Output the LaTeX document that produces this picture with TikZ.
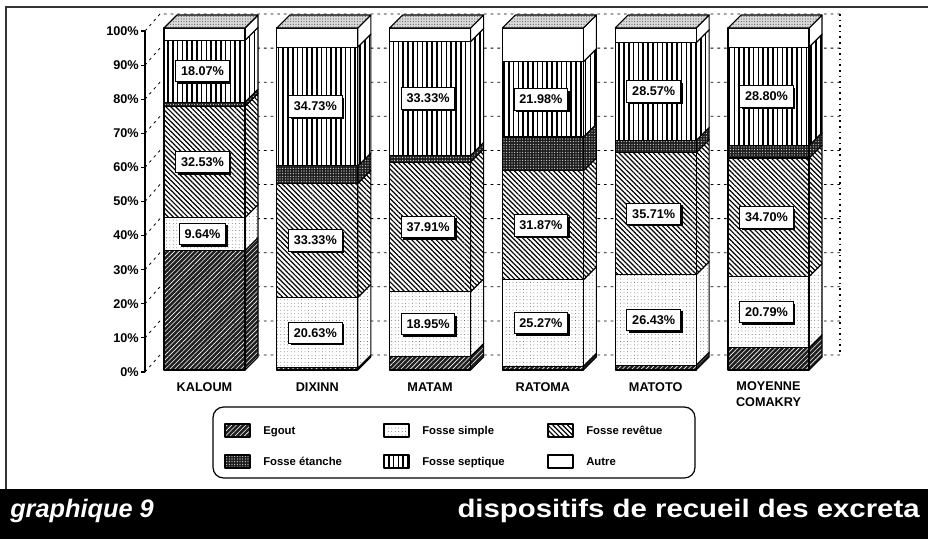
\documentclass[tikz,border=0pt]{standalone}
\usepackage{fontspec}
\usepackage{graphicx}
\setmainfont{Liberation Sans}
\usetikzlibrary{patterns.meta,shadows}

\begin{document}
\begin{tikzpicture}[x=0.75pt, y=-0.75pt,
  face/.style={draw=black, line width=0.8pt, line join=round},
  seg1/.style={face, preaction={fill=black!88},
    pattern={Lines[angle=45,distance=2.5pt,line width=0.45pt]}, pattern color=white},
  seg2/.style={face, preaction={fill=white},
    pattern={Dots[distance=2.6pt,radius=0.3pt]}, pattern color=black!75},
  seg3/.style={face, preaction={fill=white},
    pattern={Lines[angle=-45,distance=2.6pt,line width=0.9pt]}, pattern color=black},
  seg4/.style={face, preaction={fill=black!88},
    pattern={Dots[distance=2pt,radius=0.4pt]}, pattern color=white},
  seg5/.style={face, preaction={fill=white},
    pattern={Lines[angle=90,distance=3.6pt,line width=1.3pt]}, pattern color=black},
  seg6/.style={face, fill=white},
  topface/.style={face, preaction={fill=black!15},
    pattern={Dots[distance=2pt,radius=0.4pt]}, pattern color=black!70},
  valbox/.style={draw=black, fill=white, line width=0.7pt, inner xsep=4pt,
    inner ysep=2pt, minimum height=16pt, font=\bfseries\fontsize{9.5}{11}\selectfont,
    general shadow={fill=black, shadow xshift=1.6pt, shadow yshift=-1.6pt}},
  axlabel/.style={anchor=east, inner sep=0pt, font=\bfseries\fontsize{9.5}{11}\selectfont},
  catlabel/.style={anchor=north, inner sep=0pt, align=center,
    font=\bfseries\fontsize{9.5}{12}\selectfont,
    execute at begin node={\rule{0pt}{7.5pt}}},
  legtext/.style={anchor=west, inner sep=0pt, text height=6.3pt, text depth=0.3pt,
    font=\bfseries\fontsize{8.5}{10}\selectfont},
  grid/.style={black, line width=0.6pt, dash pattern=on 2pt off 3pt},
  bandtext/.style={text=white, inner sep=0pt, font=\bfseries\fontsize{19}{22}\selectfont},
]
  \useasboundingbox (0,0) rectangle (928,539);

  % frame
  \draw[black!80, line width=1.2pt] (6,489) -- (6,7) -- (928,7);

  % walls and grid
  \draw[line width=0.8pt] (145,{372-3.41*100}) -- (145,372);
  \foreach \p in {0,10,...,100} {
    \pgfmathsetmacro\ya{372-3.41*\p}
    \draw[line width=0.8pt] (141,\ya) -- (145,\ya);
    \draw[grid] (145,\ya) -- (160,\ya-17) -- (840,\ya-17);
    \node[axlabel] (ax-\p) at (139,\ya) {\p\%};
  }
  \draw[line width=1pt, dash pattern=on 1.2pt off 3pt] (840,{372-341-17}) -- (840,355);

  % bars
  \foreach \n/\cat/\vals in {
      0/KALOUM/{34.94,9.64,32.53,1.20,18.07,3.62},
      1/DIXINN/{0.60,20.63,33.33,5.10,34.73,5.61},
      2/MATAM/{3.92,18.95,37.91,1.96,33.33,3.93},
      3/RATOMA/{1.10,25.27,31.87,9.89,21.98,9.89},
      4/MATOTO/{1.43,26.43,35.71,3.57,28.57,4.29},
      5/{MOYENNE\\COMAKRY}/{6.50,20.79,34.70,3.60,28.80,5.61}} {
    \pgfmathsetmacro\xl{164+112.8*\n}
    \pgfmathsetmacro\xr{\xl+81}
    \xdef\base{0}
    \foreach \v [count=\k] in \vals {
      \pgfmathsetmacro\ya{370-3.42*\base}
      \pgfmathsetmacro\yb{370-3.42*(\base+\v)}
      \draw[seg\k] (\xr,\ya) -- ({\xr+13},{\ya-13}) -- ({\xr+13},{\yb-13}) -- (\xr,\yb) -- cycle;
      \draw[seg\k] (\xl,\ya) rectangle (\xr,\yb);
      \ifnum\k=1\else\ifnum\k=4\else\ifnum\k=6\else
        \node[valbox] (v-\n-\k) at ({(\xl+\xr)/2-2},{(\ya+\yb)/2}) {\v\%};
      \fi\fi\fi
      \pgfmathparse{\base+\v}\xdef\base{\pgfmathresult}
    }
    \draw[topface] (\xl,28) -- ({\xl+13},15) -- ({\xr+13},15) -- (\xr,28) -- cycle;
    \node[catlabel] (cat-\n) at ({(\xl+\xr)/2},381.5) {\cat};
  }

  % legend
  \draw[line width=0.9pt, rounded corners=8pt] (213,407) rectangle (695,478);
  \foreach \k/\x/\y/\txt in {1/225/430/Egout, 2/384/430/Fosse simple,
      3/548/430/Fosse revêtue, 4/225/461/Fosse étanche,
      5/384/461/Fosse septique, 6/548/461/Autre} {
    \draw[seg\k] (\x,\y-6) rectangle (\x+25,\y+7);
    \node[legtext] (leg-\k) at (\x+38,\y) {\txt};
  }

  % title band
  \fill[black] (0,489) rectangle (928,539);
  \node[bandtext, anchor=west] (gnum) at (10,511) {\itshape graphique 9};
  \node[bandtext, anchor=east] (gtitle) at (920,511)
    {\scalebox{1.16}[1]{dispositifs de recueil des excreta}};
\end{tikzpicture}
\end{document}
